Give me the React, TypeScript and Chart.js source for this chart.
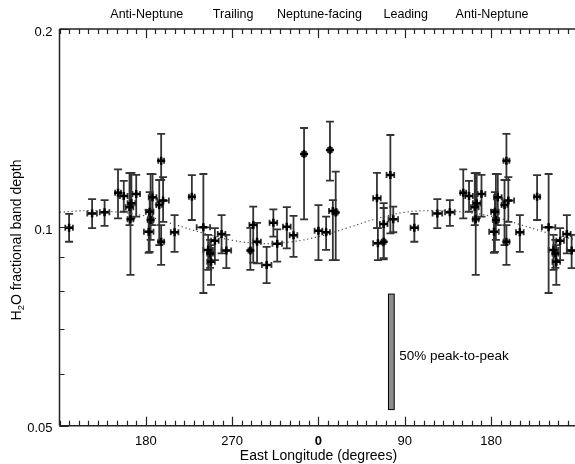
import React, { useEffect, useRef } from "react";
import { Chart, registerables } from "chart.js";
Chart.register(...registerables);

// East longitude (deg) of each measurement
const LON = [100, 124, 137, 151, 157, 163, 164, 165, 170, 184, 185, 183, 187, 196, 194, 198, 196, 210, 228, 240,
  245, 247, 248, 252, 259, 264, 289, 292, 296, 306, 313, 317, 327, 334, 345, 0, 8, 12, 15, 18,
  61, 62, 68, 68, 75, 78];
// H2O fractional band depth
const DEPTH = [0.0999, 0.1050, 0.1054, 0.1129, 0.1116, 0.1073, 0.1029, 0.1088, 0.1124, 0.1056, 0.1026, 0.0985, 0.1111, 0.1262, 0.1081, 0.1098, 0.0951, 0.0983, 0.1113, 0.1000,
  0.0924, 0.0913, 0.0887, 0.0954, 0.0977, 0.0922, 0.0922, 0.1008, 0.0951, 0.0877, 0.1016, 0.0944, 0.1002, 0.0973, 0.1292, 0.0988, 0.0983, 0.1310, 0.1059, 0.1053,
  0.1107, 0.0946, 0.0951, 0.1012, 0.1201, 0.1029];
const DEPTH_LOW = [0.0951, 0.0997, 0.1005, 0.1032, 0.1056, 0.1008, 0.0847, 0.1033, 0.1038, 0.0918, 0.0957, 0.0915, 0.1008, 0.1180, 0.0940, 0.1019, 0.0877, 0.0918, 0.1026, 0.0795,
  0.0862, 0.0868, 0.0818, 0.0892, 0.0913, 0.0867, 0.0862, 0.0884, 0.0882, 0.0823, 0.0968, 0.0887, 0.0929, 0.0902, 0.1028, 0.0892, 0.0924, 0.1177, 0.0892, 0.0892,
  0.0997, 0.0892, 0.0894, 0.0898, 0.0979, 0.0983];
const DEPTH_HIGH = [0.1048, 0.1104, 0.1100, 0.1225, 0.1176, 0.1209, 0.1209, 0.1210, 0.1201, 0.1131, 0.1205, 0.1063, 0.1204, 0.1386, 0.1180, 0.1192, 0.1008, 0.1044, 0.1200, 0.1205,
  0.0974, 0.0957, 0.0940, 0.0997, 0.1044, 0.0974, 0.0998, 0.1075, 0.1016, 0.0934, 0.1065, 0.0993, 0.1073, 0.1041, 0.1415, 0.1081, 0.1038, 0.1447, 0.1100, 0.1215,
  0.1210, 0.0997, 0.1088, 0.1070, 0.1381, 0.1075];
const LON_ERR = [4, 5, 5, 3, 4, 4, 3, 4, 4, 4, 3, 5, 4, 3, 3, 6, 3, 4, 3, 7,
  5, 3, 4, 4, 4, 5, 2, 4, 4, 5, 4, 5, 4, 4, 2, 4, 4, 2, 4, 2,
  4, 5, 2, 4, 4, 5];

// model curve (plotted longitude, depth)
const MODEL_LON = [90, 120, 150, 180, 210, 240, 270, 300, 330, 360, 390, 420, 450, 480, 510, 540, 570, 600, 630];
const MODEL_DEPTH = [0.1054, 0.1060, 0.1055, 0.1040, 0.1010, 0.0980, 0.0956, 0.0945, 0.0950, 0.0968, 0.0998, 0.1030, 0.1054, 0.1060, 0.1055, 0.1040, 0.1010, 0.0980, 0.0956];

// axes
const X_MIN = 90;
const X_MAX = 627.5;
const X_MAJOR = [180, 270, 360, 450, 540];
const X_LABELS = ["180", "270", "0", "90", "180"];
const X_MINOR_STEP = 10;
const Y_MIN = 0.05;
const Y_MAX = 0.2;
const Y_MAJOR = [0.05, 0.1, 0.2];
const Y_LABELS = ["0.05", "0.1", "0.2"];
const Y_MINOR = [0.06, 0.07, 0.08, 0.09];
const TOP_POS = [180, 270, 360, 450, 540];
const TOP_LABELS = ["Anti-Neptune", "Trailing", "Neptune-facing", "Leading", "Anti-Neptune"];
const X_TITLE = "East Longitude (degrees)";
const Y_TITLE_PARTS = ["H", "2", "O fractional band depth"];

// peak-to-peak indicator
const PEAK_LON = 436;
const PEAK_HALF_WIDTH = 3;
const PEAK_LOW = 0.0529;
const PEAK_HIGH = 0.0792;
const PEAK_TEXT = "50% peak-to-peak";

const FONT = '"Liberation Sans", Arial, Helvetica, sans-serif';

function buildPoints() {
  const pts: any[] = [];
  for (let i = 0; i < LON.length; i++) {
    for (const k of [0, 1]) {
      const u = LON[i] + 360 * k;
      if (u >= X_MIN - 8 && u <= X_MAX + 8) {
        pts.push({ x: u, y: DEPTH[i], lo: DEPTH_LOW[i], hi: DEPTH_HIGH[i], xe: LON_ERR[i] });
      }
    }
  }
  return pts;
}

const framePlugin = {
  id: "frame",
  beforeDatasetsDraw(chart: any) {
    const { ctx, chartArea: a, scales } = chart;
    const xs = scales.x, ys = scales.y;
    const pts = chart.data.datasets[1].data;
    ctx.save();
    ctx.beginPath();
    ctx.rect(a.left, a.top, a.right - a.left, a.bottom - a.top);
    ctx.clip();
    ctx.strokeStyle = "#333";
    ctx.lineWidth = 1.8;
    const cap = 4;
    for (const p of pts) {
      const px = xs.getPixelForValue(p.x);
      const py = ys.getPixelForValue(p.y);
      const yl = ys.getPixelForValue(p.lo);
      const yh = ys.getPixelForValue(p.hi);
      const xl = xs.getPixelForValue(p.x - p.xe);
      const xh = xs.getPixelForValue(p.x + p.xe);
      ctx.beginPath();
      ctx.moveTo(px, yl); ctx.lineTo(px, yh);
      ctx.moveTo(px - cap, yl); ctx.lineTo(px + cap, yl);
      ctx.moveTo(px - cap, yh); ctx.lineTo(px + cap, yh);
      ctx.moveTo(xl, py); ctx.lineTo(xh, py);
      ctx.moveTo(xl, py - cap + 1); ctx.lineTo(xl, py + cap - 1);
      ctx.moveTo(xh, py - cap + 1); ctx.lineTo(xh, py + cap - 1);
      ctx.stroke();
    }
    ctx.restore();
  },
  afterDraw(chart: any) {
    const { ctx, chartArea: a, scales } = chart;
    const xs = scales.x, ys = scales.y;
    ctx.save();
    // peak-to-peak bar
    const bx0 = xs.getPixelForValue(PEAK_LON - PEAK_HALF_WIDTH);
    const bx1 = xs.getPixelForValue(PEAK_LON + PEAK_HALF_WIDTH);
    const by0 = ys.getPixelForValue(PEAK_HIGH);
    const by1 = ys.getPixelForValue(PEAK_LOW);
    ctx.fillStyle = "#8c8c8c";
    ctx.fillRect(bx0, by0, bx1 - bx0, by1 - by0);
    ctx.strokeStyle = "#000";
    ctx.lineWidth = 1;
    ctx.strokeRect(bx0, by0, bx1 - bx0, by1 - by0);
    ctx.fillStyle = "#000";
    ctx.font = `13.5px ${FONT}`;
    ctx.textAlign = "left";
    ctx.textBaseline = "middle";
    ctx.fillText(PEAK_TEXT, bx1 + 5, (by0 + by1) / 2 + 4);

    // frame
    ctx.strokeStyle = "#222";
    ctx.lineWidth = 1.5;
    ctx.beginPath();
    ctx.moveTo(a.left, a.top); ctx.lineTo(a.right, a.top);
    ctx.moveTo(a.left, a.bottom); ctx.lineTo(a.right, a.bottom);
    ctx.moveTo(a.left, a.top); ctx.lineTo(a.left, a.bottom);
    ctx.stroke();

    // x ticks
    ctx.lineWidth = 1.2;
    ctx.beginPath();
    for (let u = X_MIN; u <= X_MAX; u += X_MINOR_STEP) {
      const px = Math.round(xs.getPixelForValue(u)) + 0.5;
      const major = X_MAJOR.includes(u);
      const len = major ? 9 : 5;
      ctx.moveTo(px, a.top); ctx.lineTo(px, a.top + len);
      ctx.moveTo(px, a.bottom); ctx.lineTo(px, a.bottom - len);
    }
    // y ticks
    for (const v of Y_MAJOR) {
      const py = Math.round(ys.getPixelForValue(v)) + 0.5;
      ctx.moveTo(a.left, py); ctx.lineTo(a.left + 9, py);
    }
    for (const v of Y_MINOR) {
      const py = Math.round(ys.getPixelForValue(v)) + 0.5;
      ctx.moveTo(a.left, py); ctx.lineTo(a.left + 5, py);
    }
    ctx.stroke();

    // x tick labels
    ctx.fillStyle = "#000";
    ctx.textAlign = "center";
    ctx.textBaseline = "middle";
    X_MAJOR.forEach((u, i) => {
      ctx.font = X_LABELS[i] === "0" ? `bold 13px ${FONT}` : `13px ${FONT}`;
      ctx.fillText(X_LABELS[i], xs.getPixelForValue(u), a.bottom + 16);
    });
    // top labels
    ctx.font = `12.5px ${FONT}`;
    TOP_POS.forEach((u, i) => {
      ctx.fillText(TOP_LABELS[i], xs.getPixelForValue(u) + 1, a.top - 14);
    });
    // y tick labels
    ctx.font = `13px ${FONT}`;
    ctx.textAlign = "right";
    Y_MAJOR.forEach((v, i) => {
      ctx.fillText(Y_LABELS[i], a.left - 7, ys.getPixelForValue(v) + 3);
    });
    // x title
    ctx.font = `14px ${FONT}`;
    ctx.textAlign = "center";
    ctx.fillText(X_TITLE, xs.getPixelForValue(360), a.bottom + 30);
    // y title
    ctx.translate(17, 240);
    ctx.rotate(-Math.PI / 2);
    ctx.textAlign = "left";
    const f1 = `14px ${FONT}`, f2 = `9.5px ${FONT}`;
    ctx.font = f1; const w0 = ctx.measureText(Y_TITLE_PARTS[0]).width;
    ctx.font = f2; const w1 = ctx.measureText(Y_TITLE_PARTS[1]).width;
    ctx.font = f1; const w2 = ctx.measureText(Y_TITLE_PARTS[2]).width;
    let sx = -(w0 + w1 + w2) / 2;
    ctx.font = f1; ctx.fillText(Y_TITLE_PARTS[0], sx, 0); sx += w0;
    ctx.font = f2; ctx.fillText(Y_TITLE_PARTS[1], sx, 4.5); sx += w1;
    ctx.font = f1; ctx.fillText(Y_TITLE_PARTS[2], sx, 0);
    ctx.restore();
  },
};

export default function App() {
  const ref = useRef<HTMLCanvasElement>(null);
  useEffect(() => {
    const canvas = ref.current!;
    const pts = buildPoints();
    const chart = new Chart(canvas, {
      type: "scatter",
      data: {
        datasets: [
          {
            type: "line",
            data: MODEL_LON.map((x, i) => ({ x, y: MODEL_DEPTH[i] })),
            borderColor: "#444",
            borderWidth: 1.2,
            borderDash: [1.2, 2.8],
            pointRadius: 0,
            tension: 0.4,
            fill: false,
            order: 2,
          } as any,
          {
            type: "scatter",
            data: pts,
            pointStyle: "cross",
            pointRadius: 4,
            borderWidth: 2.5,
            borderColor: "#000",
            backgroundColor: "#000",
            order: 1,
          } as any,
        ],
      },
      options: {
        animation: false,
        responsive: false,
        devicePixelRatio: 1,
        layout: { autoPadding: false, padding: { left: 59.5, top: 29, right: 0, bottom: 38.3 } },
        plugins: { legend: { display: false }, tooltip: { enabled: false } },
        scales: {
          x: { type: "linear", min: X_MIN, max: X_MAX, display: false },
          y: { type: "logarithmic", min: Y_MIN, max: Y_MAX, display: false },
        },
      } as any,
      plugins: [framePlugin],
    });
    return () => chart.destroy();
  }, []);
  return (
    <div style={{ position: "fixed", left: 0, top: 0, width: 575, height: 464, background: "#fff" }}>
      <canvas ref={ref} width={575} height={464} style={{ display: "block" }} />
    </div>
  );
}
